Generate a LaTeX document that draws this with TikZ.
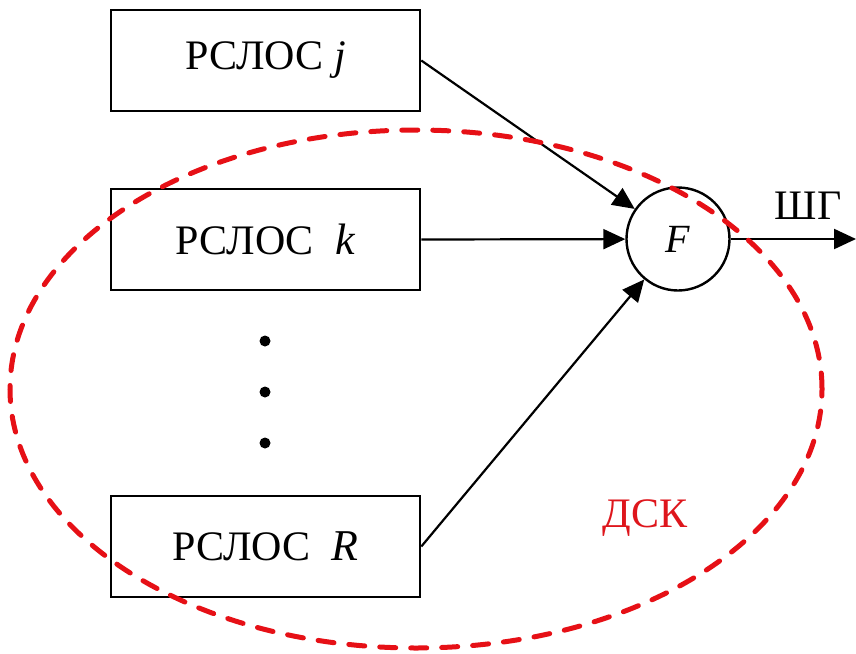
\documentclass[tikz,border=0pt]{standalone}
\usepackage{fontspec}
\setmainfont{Liberation Serif}
\usetikzlibrary{arrows.meta}
\definecolor{ellred}{RGB}{230,16,22}
\definecolor{txtred}{RGB}{222,22,28}
\tikzset{
  blk/.style={draw, line width=2.6pt, minimum width=309pt, minimum height=101pt, inner sep=0pt, font=\fontsize{42pt}{50pt}\selectfont},
  sumnode/.style={draw, circle, line width=2.4pt, minimum size=103pt, inner sep=0pt, font=\fontsize{40pt}{48pt}\selectfont\itshape},
  conn/.style={line width=2.2pt, -{Triangle[length=22pt,width=20pt]}},
  vdot/.style={circle, fill=black, minimum size=11pt, inner sep=0pt},
  lbl/.style={inner sep=0pt, font=\fontsize{42pt}{50pt}\selectfont},
  dskline/.style={draw=ellred, line width=5pt, dash pattern=on 16pt off 15pt, line cap=round}
}
\begin{document}
\begin{tikzpicture}[x=1pt,y=-1pt]
\useasboundingbox (0,0) rectangle (856,653);
\node[blk] (j) at (265.5,60.5) {РСЛОС \textit{j}};
\node[blk] (k) at (265.5,239.5) {РСЛОС\hspace{0.5em}{\fontsize{44pt}{50pt}\selectfont\textit{k}}};
\node[blk] (R) at (265.5,546.5) {РСЛОС\hspace{0.5em}{\fontsize{44pt}{50pt}\selectfont\textit{R}}};
\node[sumnode] (F) at (678,239) {F};
\node[vdot] (d1) at (265,341) {};
\node[vdot] (d2) at (265,392) {};
\node[vdot] (d3) at (265,443) {};
\coordinate (out) at (856,239);
\draw[conn] (j.east) -- (F);
\draw[conn] (k.east) -- (F);
\draw[conn] (R.east) -- (F);
\draw[conn] (F.east) -- (out);
\node[lbl] (shg) at (808,206) {ШГ};
\node[lbl, text=txtred] (dsk) at (645,518) {ДСК};
\draw[dskline] (416,389) ellipse [x radius=406pt, y radius=259pt];
\end{tikzpicture}
\end{document}
